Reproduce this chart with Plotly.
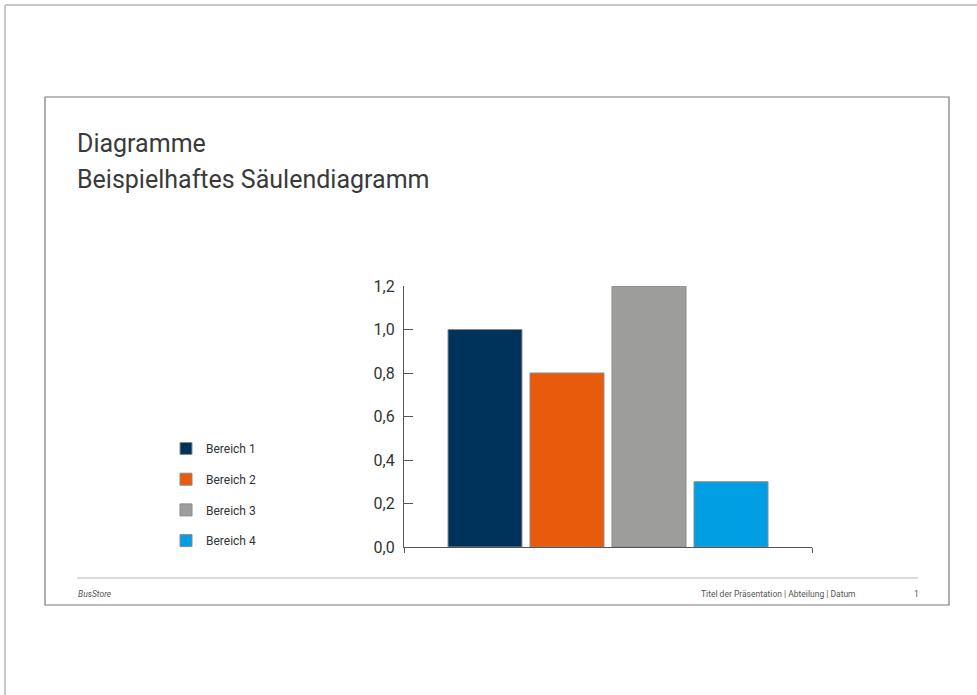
import plotly.graph_objects as go

W, H = 977, 695

series_names = ["Bereich 1", "Bereich 2", "Bereich 3", "Bereich 4"]
series_values = [1.0, 0.8, 1.2, 0.3]
series_colors = ["#00335c", "#e85a0c", "#9d9d9c", "#009fe3"]
y_ticks = [0.0, 0.2, 0.4, 0.6, 0.8, 1.0, 1.2]

title_lines = ["Diagramme", "Beispielhaftes Säulendiagramm"]
footer_left = "BusStore"
footer_mid = "Titel der Präsentation | Abteilung | Datum"
footer_page = "1"

def px(x):
    return x / W

def py(y):
    return 1 - y / H

fig = go.Figure()
for i, (n, v, c) in enumerate(zip(series_names, series_values, series_colors)):
    fig.add_trace(go.Bar(
        x=[0], y=[v], name=n, legendgroup=n,
        marker=dict(color=c, line=dict(color="#8a8a8a", width=1)),
        hoverinfo="skip",
    ))

fig.update_layout(
    width=W, height=H, autosize=False,
    margin=dict(l=0, r=0, t=0, b=0, pad=0, autoexpand=False),
    paper_bgcolor="white", plot_bgcolor="white",
    separators=",.",
    barmode="group", bargap=0.196, bargroupgap=0.098,
    font=dict(family="Roboto", color="#333333"),
    showlegend=True,
    legend=dict(
        x=px(166), y=py(434), xanchor="left", yanchor="top",
        bgcolor="rgba(0,0,0,0)", borderwidth=0,
        font=dict(size=12, family="Roboto", color="#333333"),
        tracegroupgap=11.7,
        itemclick=False, itemdoubleclick=False,
    ),
    xaxis=dict(
        domain=[px(404), px(812)], range=[-0.5, 0.5], automargin=False,
        showline=True, linecolor="#555555", linewidth=1.2,
        showgrid=False, zeroline=False,
        tickmode="array", tickvals=[-0.5, 0.5], ticktext=["", ""],
        ticks="outside", ticklen=5, tickcolor="#555555", tickwidth=1.2,
        fixedrange=True,
    ),
    yaxis=dict(
        domain=[py(547), py(286)], range=[0, 1.2], automargin=False,
        showline=True, linecolor="#555555", linewidth=1.2,
        showgrid=False, zeroline=False,
        tickmode="array", tickvals=y_ticks, tickformat=".1f",
        ticks="inside", ticklen=9, tickcolor="#555555", tickwidth=1.2,
        tickfont=dict(size=16, family="Roboto", color="#333333"),
        ticklabelstandoff=5,
        fixedrange=True,
    ),
)

shapes = [
    dict(type="line", xref="paper", yref="paper", x0=px(5), x1=px(W + 10), y0=py(5), y1=py(5),
         line=dict(color="#c8c8c8", width=2)),
    dict(type="line", xref="paper", yref="paper", x0=px(5), x1=px(5), y0=py(5), y1=py(H + 10),
         line=dict(color="#c8c8c8", width=2)),
    dict(type="rect", xref="paper", yref="paper", x0=px(45), x1=px(949), y0=py(97), y1=py(605),
         line=dict(color="#7a7a7a", width=1.2)),
    dict(type="line", xref="paper", yref="paper", x0=px(77), x1=px(918), y0=py(578), y1=py(578),
         line=dict(color="#cfcfcf", width=1.5)),
]
fig.update_layout(shapes=shapes)

annotations = [
    dict(text=title_lines[0], x=px(75), y=py(143), xanchor="left", yanchor="middle",
         font=dict(size=25, family="Roboto", color="#3a3a3a")),
    dict(text=title_lines[1], x=px(75), y=py(179), xanchor="left", yanchor="middle",
         font=dict(size=25, family="Roboto", color="#3a3a3a")),
    dict(text="<i>" + footer_left + "</i>", x=px(76), y=py(594), xanchor="left", yanchor="middle",
         font=dict(size=8.5, family="Roboto", color="#555555")),
    dict(text=footer_mid, x=px(858), y=py(594), xanchor="right", yanchor="middle",
         font=dict(size=8.5, family="Roboto", color="#555555")),
    dict(text=footer_page, x=px(916), y=py(594), xanchor="center", yanchor="middle",
         font=dict(size=8.5, family="Roboto", color="#555555")),
]
for a in annotations:
    a.update(xref="paper", yref="paper", showarrow=False)
fig.update_layout(annotations=annotations)

fig.write_html(
    "out.html",
    config={"displayModeBar": False},
    post_script="document.body.style.margin='0';document.body.style.overflow='hidden';",
)
